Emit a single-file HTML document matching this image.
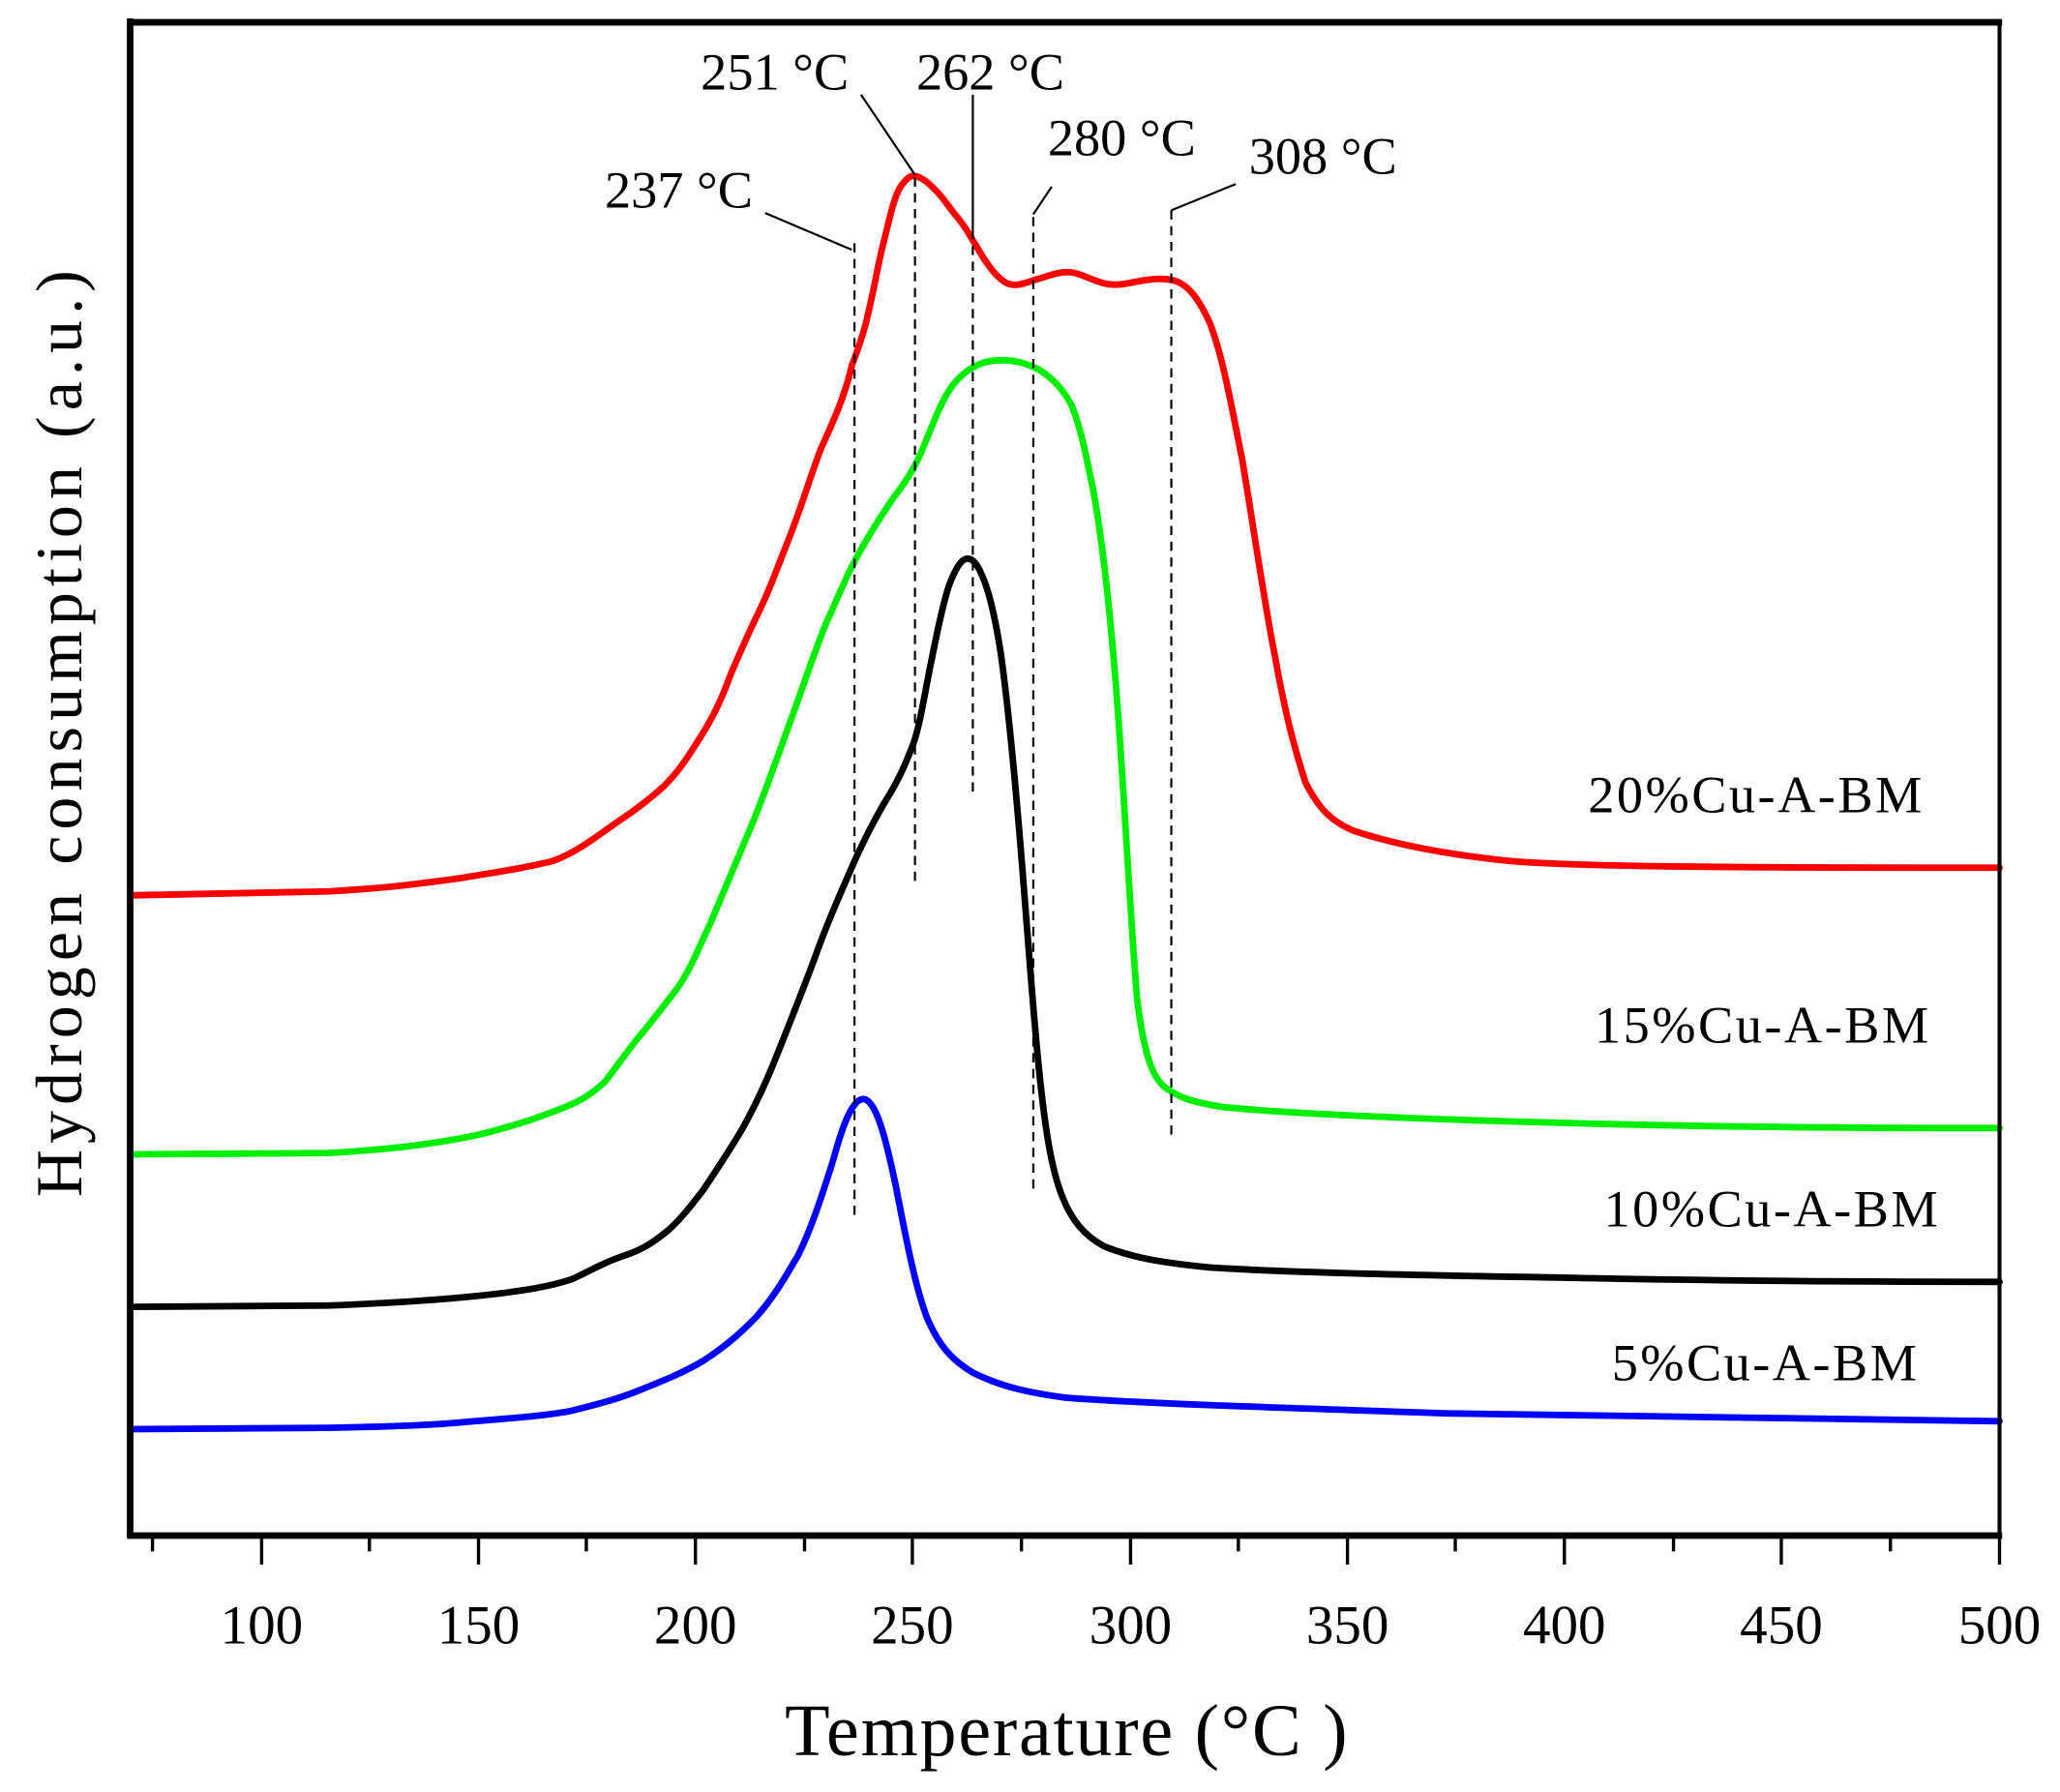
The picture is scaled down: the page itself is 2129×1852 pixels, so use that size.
<!DOCTYPE html>
<html><head><meta charset="utf-8"><style>html,body{margin:0;padding:0;background:#fff}svg{display:block}</style></head><body>
<svg xmlns="http://www.w3.org/2000/svg" width="2129" height="1852" viewBox="0 0 1567 1363" preserveAspectRatio="none" font-family="Liberation Serif, serif">
<rect x="0" y="0" width="1567" height="1363" fill="#fff"/>
<g fill="none" stroke-width="5" stroke-linejoin="round" stroke-linecap="round">
<path stroke="#ff0000" d="M100,681 L250,678 C300,675 320,672 350,668 C380,663 400,660 420,655 C440,648 455,635 470,625 C485,615 495,607 505,598 C515,588 522,578 530,565 C540,550 548,535 555,515 C562,498 568,485 575,470 C585,450 592,430 600,410 C610,385 617,360 625,340 C635,318 643,300 648,278 C654,262 658,250 660,240 C665,220 668,200 672,185 C677,165 680,150 685,142 C690,135 693,133 697,134 C703,136 707,140 712,145 C718,151 722,158 728,165 C735,173 738,180 742,186 C750,200 757,210 765,215 C773,219 780,215 790,212 C800,209 805,207 812,207 C820,207 828,212 838,215 C848,218 855,216 866,214 C876,212 885,211 895,214 C905,218 912,228 920,245 C930,270 937,310 945,350 C955,410 962,460 970,500 C978,545 985,570 993,595 C1003,615 1013,625 1030,632 C1060,642 1100,650 1150,655 C1200,659 1300,660 1521,660"/>
<path stroke="#00ee00" d="M100,878 L250,877 C300,874 330,870 360,864 C390,857 410,850 430,842 C445,836 452,830 460,823 C470,810 477,800 485,790 C495,778 505,765 515,752 C525,738 532,720 540,703 C550,680 560,655 570,632 C580,608 590,580 600,552 C610,525 618,500 628,475 C638,453 645,435 655,418 C665,400 672,390 680,378 C688,368 693,360 698,350 C705,335 710,320 716,308 C722,295 728,288 736,282 C745,276 752,274 762,274 C772,274 780,276 790,281 C800,287 808,295 815,308 C822,325 826,345 832,375 C840,420 846,480 851,550 C856,620 860,700 865,760 C870,800 876,818 885,826 C895,834 905,838 930,842 C970,846 1050,850 1150,853 C1250,856 1350,858 1521,858"/>
<path stroke="#000" d="M100,994 L250,993 C300,991 330,989 360,986 C400,982 420,978 435,973 C450,966 460,960 475,955 C490,950 498,944 508,936 C518,927 525,918 535,905 C545,890 555,875 565,858 C575,840 582,825 590,805 C600,780 610,755 620,728 C630,700 640,678 650,655 C660,633 668,618 678,602 C686,588 690,578 695,565 C700,550 703,530 707,510 C712,485 717,460 722,445 C727,432 731,426 735,425 C740,424 744,430 748,440 C753,452 757,470 761,495 C766,530 771,580 776,640 C781,700 785,760 790,810 C795,860 800,890 808,910 C815,928 825,940 840,948 C860,956 880,960 920,964 C980,968 1080,970 1200,972 C1300,974 1400,975 1521,975"/>
<path stroke="#0000ff" d="M100,1087 L250,1086 C300,1085 330,1084 360,1081 C400,1078 420,1076 435,1073 C455,1068 470,1064 485,1058 C505,1050 520,1044 535,1035 C555,1022 565,1012 575,1002 C590,985 598,970 607,955 C617,935 625,910 633,885 C640,860 645,845 652,838 C657,834 660,836 664,842 C670,852 675,872 681,900 C688,935 695,975 705,1002 C715,1025 725,1035 740,1044 C760,1054 780,1059 810,1063 C860,1067 950,1070 1100,1075 C1250,1078 1400,1080 1521,1081"/>
</g>
<g stroke="#000" stroke-width="1.6" fill="none">
<line x1="650" y1="185" x2="650" y2="928" stroke-dasharray="7,5"/>
<line x1="696" y1="135" x2="696" y2="670" stroke-dasharray="7,5"/>
<line x1="740" y1="175" x2="740" y2="605" stroke-dasharray="7,5"/>
<line x1="740" y1="72" x2="740" y2="175"/>
<line x1="786" y1="165" x2="786" y2="905" stroke-dasharray="7,5"/>
<line x1="891" y1="160" x2="891" y2="868" stroke-dasharray="7,5"/>
<line x1="582" y1="162" x2="648" y2="190"/>
<line x1="655" y1="72" x2="696" y2="133"/>
<line x1="786" y1="163" x2="800" y2="142"/>
<line x1="891" y1="160" x2="940" y2="140"/>
</g>
<g font-size="40" fill="#000">
<text x="460" y="158">237 °C</text>
<text x="533" y="68">251 °C</text>
<text x="697" y="68">262 °C</text>
<text x="797" y="118">280 °C</text>
<text x="950" y="132">308 °C</text>
<text x="1208" y="618" textLength="254">20%Cu-A-BM</text>
<text x="1213" y="793" textLength="254">15%Cu-A-BM</text>
<text x="1220" y="933" textLength="254">10%Cu-A-BM</text>
<text x="1226" y="1050" textLength="232">5%Cu-A-BM</text>
</g>
<rect x="99" y="16" width="1422" height="1152" fill="none" stroke="#000" stroke-width="3"/>
<line x1="97" y1="17" x2="1523" y2="17" stroke="#000" stroke-width="5"/>
<line x1="99" y1="14" x2="99" y2="1170" stroke="#000" stroke-width="5"/>
<line x1="97" y1="1168" x2="1523" y2="1168" stroke="#000" stroke-width="5"/>
<g stroke="#000" stroke-width="2.5">
<line x1="116" y1="1168" x2="116" y2="1180"/>
<line x1="199" y1="1168" x2="199" y2="1190"/>
<line x1="281" y1="1168" x2="281" y2="1180"/>
<line x1="364" y1="1168" x2="364" y2="1190"/>
<line x1="446" y1="1168" x2="446" y2="1180"/>
<line x1="529" y1="1168" x2="529" y2="1190"/>
<line x1="612" y1="1168" x2="612" y2="1180"/>
<line x1="694" y1="1168" x2="694" y2="1190"/>
<line x1="777" y1="1168" x2="777" y2="1180"/>
<line x1="860" y1="1168" x2="860" y2="1190"/>
<line x1="942" y1="1168" x2="942" y2="1180"/>
<line x1="1025" y1="1168" x2="1025" y2="1190"/>
<line x1="1107" y1="1168" x2="1107" y2="1180"/>
<line x1="1190" y1="1168" x2="1190" y2="1190"/>
<line x1="1273" y1="1168" x2="1273" y2="1180"/>
<line x1="1355" y1="1168" x2="1355" y2="1190"/>
<line x1="1438" y1="1168" x2="1438" y2="1180"/>
<line x1="1521" y1="1168" x2="1521" y2="1190"/>
</g>
<g font-size="42" text-anchor="middle" fill="#000">
<text x="199" y="1250">100</text><text x="364" y="1250">150</text><text x="529" y="1250">200</text>
<text x="694" y="1250">250</text><text x="860" y="1250">300</text><text x="1025" y="1250">350</text>
<text x="1190" y="1250">400</text><text x="1355" y="1250">450</text><text x="1521" y="1250">500</text>
</g>
<text x="811" y="1335" font-size="56" text-anchor="middle" textLength="428">Temperature (°C )</text>
<text transform="translate(62,558) rotate(-90)" font-size="50" text-anchor="middle" textLength="705">Hydrogen consumption (a.u.)</text>
</svg>
</body></html>
